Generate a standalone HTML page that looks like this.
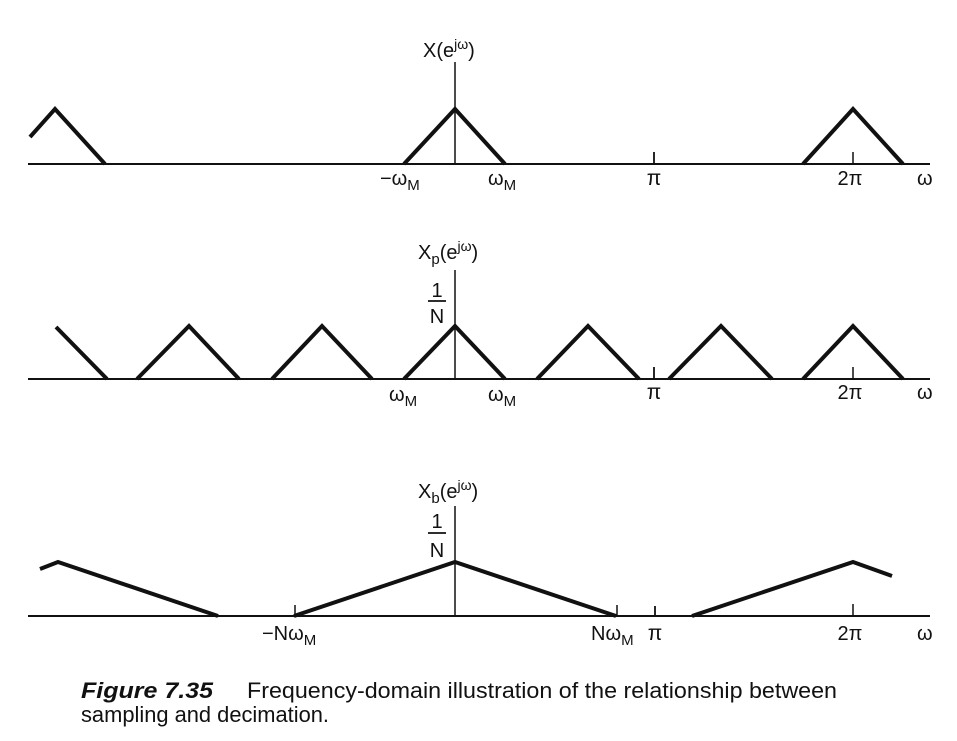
<!DOCTYPE html>
<html>
<head>
<meta charset="utf-8">
<style>
html,body{margin:0;padding:0;background:#fff;}
svg{display:block;}
text{font-family:"Liberation Sans",sans-serif;fill:#111;}
</style>
</head>
<body>
<svg width="957" height="741" viewBox="0 0 957 741" xmlns="http://www.w3.org/2000/svg">
<g stroke="#111" fill="none" stroke-linecap="butt" stroke-linejoin="miter">
  <!-- TOP PLOT -->
  <line x1="28" y1="164" x2="930" y2="164" stroke-width="2"/>
  <line x1="455" y1="62" x2="455" y2="164" stroke-width="1.5"/>
  <line x1="654" y1="152" x2="654" y2="164" stroke-width="1.8"/>
  <line x1="853" y1="152" x2="853" y2="164" stroke-width="1.5"/>
  <polyline points="30,137 55,109 105,164" stroke-width="4"/>
  <polyline points="404,164 455,109 505,164" stroke-width="4"/>
  <polyline points="803,164 853,109 903,164" stroke-width="4"/>

  <!-- MIDDLE PLOT -->
  <line x1="28" y1="379" x2="930" y2="379" stroke-width="2"/>
  <line x1="455" y1="270" x2="455" y2="379" stroke-width="1.5"/>
  <line x1="654" y1="367" x2="654" y2="379" stroke-width="1.8"/>
  <line x1="853" y1="367" x2="853" y2="379" stroke-width="1.5"/>
  <polyline points="56,327 107,379" stroke-width="4"/>
  <polyline points="137,379 189,326 239,379" stroke-width="4"/>
  <polyline points="272,379 322,326 372,379" stroke-width="4"/>
  <polyline points="404,379 455,326 505,379" stroke-width="4"/>
  <polyline points="537,379 588,326 639,379" stroke-width="4"/>
  <polyline points="669,379 721,326 772,379" stroke-width="4"/>
  <polyline points="803,379 853,326 903,379" stroke-width="4"/>
  <line x1="428" y1="301" x2="446" y2="301" stroke-width="1.8"/>

  <!-- BOTTOM PLOT -->
  <line x1="28" y1="616" x2="930" y2="616" stroke-width="2"/>
  <line x1="455" y1="506" x2="455" y2="616" stroke-width="1.5"/>
  <line x1="295" y1="605" x2="295" y2="616" stroke-width="1.5"/>
  <line x1="617" y1="605" x2="617" y2="616" stroke-width="1.5"/>
  <line x1="655" y1="606" x2="655" y2="616" stroke-width="1.8"/>
  <line x1="853" y1="604" x2="853" y2="616" stroke-width="1.5"/>
  <polyline points="40,569 58,562 218,616" stroke-width="4"/>
  <polyline points="294,616 455,562 616,616" stroke-width="4"/>
  <polyline points="692,616 853,562 892,576" stroke-width="4"/>
  <line x1="428" y1="533" x2="446" y2="533" stroke-width="1.8"/>
</g>

<!-- TOP LABELS -->
<text x="423" y="57" font-size="20">X(e<tspan font-size="14" dy="-8">jω</tspan><tspan dy="8">)</tspan></text>
<text x="380" y="185" font-size="20">−ω<tspan font-size="15" dy="5">M</tspan></text>
<text x="488" y="185" font-size="20">ω<tspan font-size="15" dy="5">M</tspan></text>
<text x="654" y="185" font-size="21" text-anchor="middle">π</text>
<text x="850" y="185" font-size="20" text-anchor="middle">2π</text>
<text x="917" y="185" font-size="20">ω</text>

<!-- MIDDLE LABELS -->
<text x="418" y="259" font-size="20">X<tspan font-size="15" dy="5">p</tspan><tspan dy="-5">(e</tspan><tspan font-size="14" dy="-8">jω</tspan><tspan dy="8">)</tspan></text>
<text x="437" y="297" font-size="20" text-anchor="middle">1</text>
<text x="437" y="323" font-size="20" text-anchor="middle">N</text>
<text x="389" y="401" font-size="20">ω<tspan font-size="15" dy="5">M</tspan></text>
<text x="488" y="401" font-size="20">ω<tspan font-size="15" dy="5">M</tspan></text>
<text x="654" y="399" font-size="21" text-anchor="middle">π</text>
<text x="850" y="399" font-size="20" text-anchor="middle">2π</text>
<text x="917" y="399" font-size="20">ω</text>

<!-- BOTTOM LABELS -->
<text x="418" y="498" font-size="20">X<tspan font-size="15" dy="5">b</tspan><tspan dy="-5">(e</tspan><tspan font-size="14" dy="-8">jω</tspan><tspan dy="8">)</tspan></text>
<text x="437" y="528" font-size="20" text-anchor="middle">1</text>
<text x="437" y="557" font-size="20" text-anchor="middle">N</text>
<text x="262" y="640" font-size="20">−Nω<tspan font-size="15" dy="5">M</tspan></text>
<text x="591" y="640" font-size="20">Nω<tspan font-size="15" dy="5">M</tspan></text>
<text x="655" y="640" font-size="21" text-anchor="middle">π</text>
<text x="850" y="640" font-size="20" text-anchor="middle">2π</text>
<text x="917" y="640" font-size="20">ω</text>

<!-- CAPTION -->
<text x="81" y="698" font-size="22" font-weight="bold" font-style="italic" textLength="132" lengthAdjust="spacingAndGlyphs">Figure 7.35</text>
<text x="247" y="698" font-size="22" textLength="590" lengthAdjust="spacingAndGlyphs">Frequency-domain illustration of the relationship between</text>
<text x="81" y="722" font-size="22" textLength="248" lengthAdjust="spacingAndGlyphs">sampling and decimation.</text>
</svg>
</body>
</html>
